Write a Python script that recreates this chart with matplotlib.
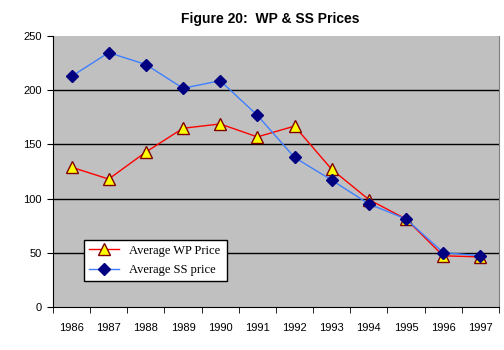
import matplotlib
matplotlib.use("Agg")
import matplotlib.pyplot as plt

years = ["1986", "1987", "1988", "1989", "1990", "1991",
         "1992", "1993", "1994", "1995", "1996", "1997"]
wp_price = [129, 118, 143, 165, 169, 157, 167, 127, 99, 81, 47, 46]
ss_price = [213, 235, 224, 202, 209, 177, 138, 117, 95, 81, 50, 47]
y_ticks = [0, 50, 100, 150, 200, 250]

fig = plt.figure(figsize=(5.04, 3.5), dpi=100)
ax = fig.add_axes([0.105, 0.124, 0.885, 0.772])
ax.set_facecolor("#C0C0C0")

x = list(range(len(years)))
ax.plot(x, wp_price, color="red", lw=1.0, marker="^", markersize=8,
        markerfacecolor="yellow", markeredgecolor="#800000", markeredgewidth=1.0,
        label="Average WP Price", zorder=3)
ax.plot(x, ss_price, color="#3F7FFF", lw=1.0, marker="D", markersize=6.5,
        markerfacecolor="#000080", markeredgecolor="#000080",
        label="Average SS price", zorder=4)

ax.set_xlim(-0.5, len(years) - 0.5)
ax.set_ylim(0, 250)
ax.set_yticks(y_ticks)
ax.set_yticklabels([str(t) for t in y_ticks], fontsize=8, family="Liberation Sans")
for t in y_ticks[1:-1]:
    ax.axhline(t, color="black", lw=1.0, zorder=1)

# category labels in the middle, tick marks between the categories
ax.set_xticks(x)
ax.set_xticklabels(years, fontsize=8, family="Liberation Sans")
ax.tick_params(axis="x", length=0, pad=12)
ax.set_xticks([i - 0.5 for i in range(len(years) + 1)], minor=True)
ax.tick_params(axis="x", which="minor", length=4, direction="out", color="black")
ax.tick_params(axis="y", length=4, direction="out", color="black", pad=4)

ax.spines["top"].set_visible(False)
ax.spines["right"].set_color("#808080")
ax.spines["left"].set_color("black")
ax.spines["bottom"].set_color("black")

fig.text(0.536, 0.945, "Figure 20:  WP & SS Prices", ha="center", va="center",
         fontsize=10, fontweight="bold", family="Liberation Sans")

leg = ax.legend(loc="lower left", bbox_to_anchor=(0.07, 0.094, 0.32, 0.174),
                mode="expand", prop={"family": "Liberation Serif", "size": 9},
                frameon=True, fancybox=False, framealpha=1, edgecolor="black",
                borderpad=0.4, labelspacing=0.6, handlelength=2.4, borderaxespad=0)
leg.get_frame().set_linewidth(1.0)

fig.savefig("out.png", dpi=100)
